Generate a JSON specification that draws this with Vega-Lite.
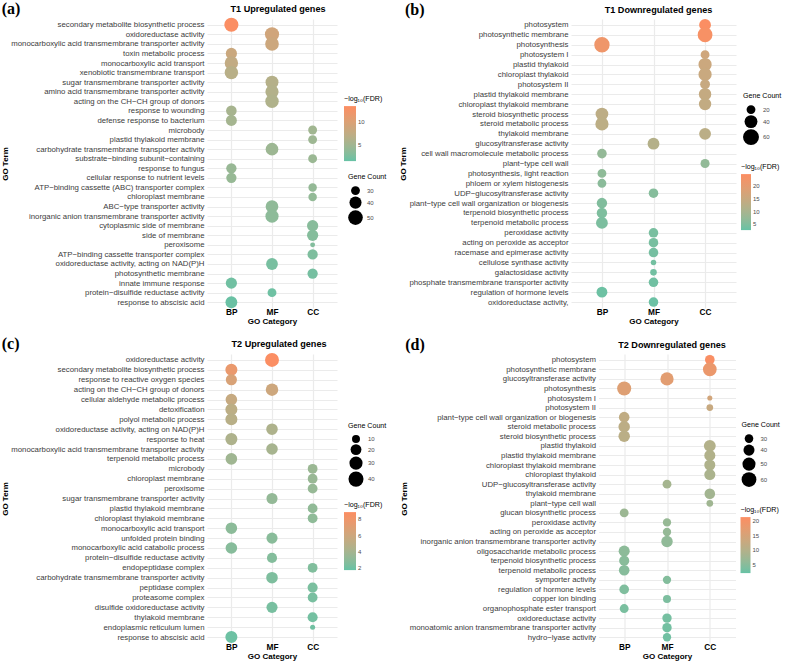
{
  "$schema": "https://vega.github.io/schema/vega-lite/v6.json",
  "padding": {"left": 1, "top": 0, "right": 0, "bottom": 0},
  "config": {
    "font": "Liberation Sans",
    "view": {"stroke": null},
    "axis": {
      "domain": false,
      "ticks": false,
      "grid": true,
      "gridColor": "#EBEBEB",
      "gridWidth": 1.2,
      "labelFont": "Liberation Sans",
      "labelColor": "#3C3C3C",
      "labelFontSize": 7.8,
      "labelPadding": 3,
      "titleFont": "Liberation Sans",
      "titleFontSize": 8,
      "titleFontWeight": "bold",
      "titleColor": "#000000",
      "titlePadding": 2
    },
    "axisX": {"labelFontWeight": "bold", "labelColor": "#000000", "labelFontSize": 8.3, "labelAngle": 0, "labelPadding": -1},
    "axisY": {"titlePadding": 1, "labelLimit": 400},
    "legend": {
      "padding": 0,
      "titleFont": "Liberation Sans",
      "titleFontSize": 7.1,
      "titleFontWeight": "normal",
      "titleColor": "#000000",
      "titlePadding": 4,
      "labelFont": "Liberation Sans",
      "labelFontSize": 6,
      "labelColor": "#4D4D4D",
      "symbolFillColor": "#000000",
      "symbolStrokeWidth": 0,
      "symbolOpacity": 1,
      "rowPadding": 1,
      "gradientStrokeWidth": 0,
      "direction": "vertical"
    },
    "title": {"color": "#000000"}
  },
  "datasets": {
    "t1up": [
      {"term": "secondary metabolite biosynthetic process", "category": "BP", "count": 48, "logFDR": 13.5},
      {"term": "oxidoreductase activity", "category": "MF", "count": 48, "logFDR": 9.0},
      {"term": "monocarboxylic acid transmembrane transporter activity", "category": "MF", "count": 46, "logFDR": 8.6},
      {"term": "toxin metabolic process", "category": "BP", "count": 37, "logFDR": 8.4},
      {"term": "monocarboxylic acid transport", "category": "BP", "count": 45, "logFDR": 7.6},
      {"term": "xenobiotic transmembrane transport", "category": "BP", "count": 45, "logFDR": 6.8},
      {"term": "sugar transmembrane transporter activity", "category": "MF", "count": 43, "logFDR": 6.5},
      {"term": "amino acid transmembrane transporter activity", "category": "MF", "count": 44, "logFDR": 6.3},
      {"term": "acting on the CH−CH group of donors", "category": "MF", "count": 45, "logFDR": 6.1},
      {"term": "response to wounding", "category": "BP", "count": 35, "logFDR": 5.4},
      {"term": "defense response to bacterium", "category": "BP", "count": 36, "logFDR": 5.2},
      {"term": "microbody", "category": "CC", "count": 30, "logFDR": 4.9},
      {"term": "plastid thylakoid membrane", "category": "CC", "count": 30, "logFDR": 4.7},
      {"term": "carbohydrate transmembrane transporter activity", "category": "MF", "count": 42, "logFDR": 4.6},
      {"term": "substrate−binding subunit−containing", "category": "CC", "count": 30, "logFDR": 4.5},
      {"term": "response to fungus", "category": "BP", "count": 34, "logFDR": 4.3},
      {"term": "cellular response to nutrient levels", "category": "BP", "count": 34, "logFDR": 4.2},
      {"term": "ATP−binding cassette (ABC) transporter complex", "category": "CC", "count": 29, "logFDR": 4.0},
      {"term": "chloroplast membrane", "category": "CC", "count": 29, "logFDR": 3.9},
      {"term": "ABC−type transporter activity", "category": "MF", "count": 42, "logFDR": 3.7},
      {"term": "inorganic anion transmembrane transporter activity", "category": "MF", "count": 44, "logFDR": 3.5},
      {"term": "cytoplasmic side of membrane", "category": "CC", "count": 37, "logFDR": 3.2},
      {"term": "side of membrane", "category": "CC", "count": 37, "logFDR": 3.0},
      {"term": "peroxisome", "category": "CC", "count": 22, "logFDR": 2.9},
      {"term": "ATP−binding cassette transporter complex", "category": "CC", "count": 34, "logFDR": 2.6},
      {"term": "oxidoreductase activity, acting on NAD(P)H", "category": "MF", "count": 39, "logFDR": 2.3},
      {"term": "photosynthetic membrane", "category": "CC", "count": 34, "logFDR": 2.2},
      {"term": "innate immune response", "category": "BP", "count": 37, "logFDR": 1.9},
      {"term": "protein−disulfide reductase activity", "category": "MF", "count": 30, "logFDR": 1.8},
      {"term": "response to abscisic acid", "category": "BP", "count": 39, "logFDR": 1.6}
    ],
    "t1down": [
      {"term": "photosystem", "category": "CC", "count": 34, "logFDR": 24.3},
      {"term": "photosynthetic membrane", "category": "CC", "count": 52, "logFDR": 23.5},
      {"term": "photosynthesis", "category": "BP", "count": 56, "logFDR": 22.0},
      {"term": "photosystem I", "category": "CC", "count": 20, "logFDR": 16.2},
      {"term": "plastid thylakoid", "category": "CC", "count": 42, "logFDR": 15.4},
      {"term": "chloroplast thylakoid", "category": "CC", "count": 42, "logFDR": 15.1},
      {"term": "photosystem II", "category": "CC", "count": 24, "logFDR": 14.8},
      {"term": "plastid thylakoid membrane", "category": "CC", "count": 37, "logFDR": 14.3},
      {"term": "chloroplast thylakoid membrane", "category": "CC", "count": 37, "logFDR": 13.9},
      {"term": "steroid biosynthetic process", "category": "BP", "count": 39, "logFDR": 13.2},
      {"term": "steroid metabolic process", "category": "BP", "count": 42, "logFDR": 13.0},
      {"term": "thylakoid membrane", "category": "CC", "count": 34, "logFDR": 12.8},
      {"term": "glucosyltransferase activity", "category": "MF", "count": 34, "logFDR": 11.8},
      {"term": "cell wall macromolecule metabolic process", "category": "BP", "count": 23, "logFDR": 7.4},
      {"term": "plant−type cell wall", "category": "CC", "count": 21, "logFDR": 7.2},
      {"term": "photosynthesis, light reaction", "category": "BP", "count": 20, "logFDR": 6.8},
      {"term": "phloem or xylem histogenesis", "category": "BP", "count": 20, "logFDR": 6.4},
      {"term": "UDP−glucosyltransferase activity", "category": "MF", "count": 23, "logFDR": 5.8},
      {"term": "plant−type cell wall organization or biogenesis", "category": "BP", "count": 27, "logFDR": 5.3},
      {"term": "terpenoid biosynthetic process", "category": "BP", "count": 27, "logFDR": 5.0},
      {"term": "terpenoid metabolic process", "category": "BP", "count": 34, "logFDR": 4.8},
      {"term": "peroxidase activity", "category": "MF", "count": 23, "logFDR": 4.5},
      {"term": "acting on peroxide as acceptor", "category": "MF", "count": 23, "logFDR": 4.4},
      {"term": "racemase and epimerase activity", "category": "MF", "count": 23, "logFDR": 4.2},
      {"term": "cellulose synthase activity", "category": "MF", "count": 9, "logFDR": 4.0},
      {"term": "galactosidase activity", "category": "MF", "count": 12, "logFDR": 3.9},
      {"term": "phosphate transmembrane transporter activity", "category": "MF", "count": 23, "logFDR": 3.7},
      {"term": "regulation of hormone levels", "category": "BP", "count": 29, "logFDR": 3.4},
      {"term": "oxidoreductase activity,", "category": "MF", "count": 23, "logFDR": 3.2}
    ],
    "t2up": [
      {"term": "oxidoreductase activity", "category": "MF", "count": 34, "logFDR": 8.8},
      {"term": "secondary metabolite biosynthetic process", "category": "BP", "count": 25, "logFDR": 7.7},
      {"term": "response to reactive oxygen species", "category": "BP", "count": 21, "logFDR": 6.6},
      {"term": "acting on the CH−CH group of donors", "category": "MF", "count": 27, "logFDR": 6.0},
      {"term": "cellular aldehyde metabolic process", "category": "BP", "count": 23, "logFDR": 5.6},
      {"term": "detoxification", "category": "BP", "count": 25, "logFDR": 5.1},
      {"term": "polyol metabolic process", "category": "BP", "count": 25, "logFDR": 4.9},
      {"term": "oxidoreductase activity, acting on NAD(P)H", "category": "MF", "count": 23, "logFDR": 4.4},
      {"term": "response to heat", "category": "BP", "count": 25, "logFDR": 4.4},
      {"term": "monocarboxylic acid transmembrane transporter activity", "category": "MF", "count": 23, "logFDR": 4.1},
      {"term": "terpenoid metabolic process", "category": "BP", "count": 23, "logFDR": 3.8},
      {"term": "microbody", "category": "CC", "count": 16, "logFDR": 3.6},
      {"term": "chloroplast membrane", "category": "CC", "count": 16, "logFDR": 3.5},
      {"term": "peroxisome", "category": "CC", "count": 16, "logFDR": 3.4},
      {"term": "sugar transmembrane transporter activity", "category": "MF", "count": 21, "logFDR": 3.3},
      {"term": "plastid thylakoid membrane", "category": "CC", "count": 16, "logFDR": 3.2},
      {"term": "chloroplast thylakoid membrane", "category": "CC", "count": 16, "logFDR": 3.1},
      {"term": "monocarboxylic acid transport", "category": "BP", "count": 23, "logFDR": 3.0},
      {"term": "unfolded protein binding", "category": "MF", "count": 21, "logFDR": 2.9},
      {"term": "monocarboxylic acid catabolic process", "category": "BP", "count": 23, "logFDR": 2.8},
      {"term": "protein−disulfide reductase activity", "category": "MF", "count": 17, "logFDR": 2.7},
      {"term": "endopeptidase complex", "category": "CC", "count": 16, "logFDR": 2.6},
      {"term": "carbohydrate transmembrane transporter activity", "category": "MF", "count": 23, "logFDR": 2.5},
      {"term": "peptidase complex", "category": "CC", "count": 17, "logFDR": 2.4},
      {"term": "proteasome complex", "category": "CC", "count": 16, "logFDR": 2.35},
      {"term": "disulfide oxidoreductase activity", "category": "MF", "count": 21, "logFDR": 2.3},
      {"term": "thylakoid membrane", "category": "CC", "count": 17, "logFDR": 2.2},
      {"term": "endoplasmic reticulum lumen", "category": "CC", "count": 3, "logFDR": 2.1},
      {"term": "response to abscisic acid", "category": "BP", "count": 25, "logFDR": 2.0}
    ],
    "t2down": [
      {"term": "photosystem", "category": "CC", "count": 34, "logFDR": 21.0},
      {"term": "photosynthetic membrane", "category": "CC", "count": 54, "logFDR": 18.5},
      {"term": "glucosyltransferase activity", "category": "MF", "count": 51, "logFDR": 17.0},
      {"term": "photosynthesis", "category": "BP", "count": 56, "logFDR": 16.4},
      {"term": "photosystem I", "category": "CC", "count": 20, "logFDR": 14.5},
      {"term": "photosystem II", "category": "CC", "count": 24, "logFDR": 12.8},
      {"term": "plant−type cell wall organization or biogenesis", "category": "BP", "count": 38, "logFDR": 11.8},
      {"term": "steroid metabolic process", "category": "BP", "count": 42, "logFDR": 11.3},
      {"term": "steroid biosynthetic process", "category": "BP", "count": 42, "logFDR": 11.0},
      {"term": "plastid thylakoid", "category": "CC", "count": 44, "logFDR": 10.0},
      {"term": "plastid thylakoid membrane", "category": "CC", "count": 40, "logFDR": 9.8},
      {"term": "chloroplast thylakoid membrane", "category": "CC", "count": 40, "logFDR": 9.5},
      {"term": "chloroplast thylakoid", "category": "CC", "count": 40, "logFDR": 9.0},
      {"term": "UDP−glucosyltransferase activity", "category": "MF", "count": 31, "logFDR": 8.3},
      {"term": "thylakoid membrane", "category": "CC", "count": 38, "logFDR": 8.0},
      {"term": "plant−type cell wall", "category": "CC", "count": 24, "logFDR": 7.6},
      {"term": "glucan biosynthetic process", "category": "BP", "count": 31, "logFDR": 7.2},
      {"term": "peroxidase activity", "category": "MF", "count": 29, "logFDR": 6.6},
      {"term": "acting on peroxide as acceptor", "category": "MF", "count": 29, "logFDR": 6.4},
      {"term": "inorganic anion transmembrane transporter activity", "category": "MF", "count": 42, "logFDR": 6.0},
      {"term": "oligosaccharide metabolic process", "category": "BP", "count": 40, "logFDR": 5.6},
      {"term": "terpenoid biosynthetic process", "category": "BP", "count": 36, "logFDR": 5.2},
      {"term": "terpenoid metabolic process", "category": "BP", "count": 38, "logFDR": 5.0},
      {"term": "symporter activity", "category": "MF", "count": 29, "logFDR": 4.6},
      {"term": "regulation of hormone levels", "category": "BP", "count": 34, "logFDR": 4.3},
      {"term": "copper ion binding", "category": "MF", "count": 28, "logFDR": 4.0},
      {"term": "organophosphate ester transport", "category": "BP", "count": 31, "logFDR": 3.8},
      {"term": "oxidoreductase activity", "category": "MF", "count": 33, "logFDR": 3.4},
      {"term": "monoatomic anion transmembrane transporter activity", "category": "MF", "count": 33, "logFDR": 3.2},
      {"term": "hydro−lyase activity", "category": "MF", "count": 29, "logFDR": 3.0}
    ]
  },
  "resolve": {"scale": {"color": "independent", "size": "independent"}, "legend": {"color": "independent", "size": "independent"}},
  "spacing": 9,
  "vconcat": [
    {
      "resolve": {"scale": {"color": "independent", "size": "independent"}, "legend": {"color": "independent", "size": "independent"}},
      "spacing": 12,
      "hconcat": [
        {
          "title": {"text": "(a)", "anchor": "start", "frame": "bounds", "font": "Liberation Serif", "fontSize": 16, "fontWeight": "bold", "offset": -12},
          "resolve": {"scale": {"color": "independent", "size": "independent"}},
          "vconcat": [
            {
              "data": {"name": "t1up"},
              "title": {"text": "T1 Upregulated genes", "anchor": "middle", "frame": "group", "fontSize": 9.1, "fontWeight": "bold", "offset": 4, "dx": 6},
              "width": 130,
              "height": 289,
              "mark": {"type": "circle", "opacity": 1, "color": "#000000"},
              "encoding": {
                "x": {"field": "category", "type": "nominal", "sort": ["BP", "MF", "CC"], "scale": {"type": "point", "padding": 0.6}, "axis": {"title": "GO Category"}},
                "y": {"field": "term", "type": "nominal", "sort": null, "scale": {"type": "point", "padding": 0.6}, "axis": {"title": "GO Term"}},
                "size": {"field": "count", "type": "quantitative", "scale": {"domain": [20, 55], "range": [10.7, 248], "zero": false},
                  "legend": {"title": "Gene Count", "values": [30, 40, 50], "orient": "none", "legendX": 141, "legendY": 154, "titlePadding": 6}},
                "color": {"field": "logFDR", "type": "quantitative", "scale": {"domain": [1.4, 13.6], "range": ["#66C2A5", "#FC8D62"], "interpolate": "lab"},
                  "legend": {"title": "−log₁₀(FDR)", "values": [5, 10], "orient": "none", "legendX": 137, "legendY": 76, "gradientLength": 55, "gradientThickness": 12}}
              }
            }
          ]
        },
        {
          "title": {"text": "(b)", "anchor": "start", "frame": "bounds", "font": "Liberation Serif", "fontSize": 16, "fontWeight": "bold", "offset": -12, "dx": 5},
          "resolve": {"scale": {"color": "independent", "size": "independent"}},
          "vconcat": [
            {
              "data": {"name": "t1down"},
              "title": {"text": "T1 Downregulated genes", "anchor": "middle", "frame": "group", "fontSize": 9.1, "fontWeight": "bold", "offset": 4, "dx": 5},
              "width": 165,
              "height": 289,
              "mark": {"type": "circle", "opacity": 1, "color": "#000000"},
              "encoding": {
                "x": {"field": "category", "type": "nominal", "sort": ["BP", "MF", "CC"], "scale": {"type": "point", "padding": 0.6}, "axis": {"title": "GO Category"}},
                "y": {"field": "term", "type": "nominal", "sort": null, "scale": {"type": "point", "padding": 0.6}, "axis": {"title": "GO Term"}},
                "size": {"field": "count", "type": "quantitative", "scale": {"domain": [5, 70], "range": [12.6, 298], "zero": false},
                  "legend": {"title": "Gene Count", "values": [20, 40, 60], "orient": "none", "legendX": 172, "legendY": 73, "titlePadding": 6}},
                "color": {"field": "logFDR", "type": "quantitative", "scale": {"domain": [2.8, 24.6], "range": ["#66C2A5", "#FC8D62"], "interpolate": "lab"},
                  "legend": {"title": "−log₁₀(FDR)", "values": [5, 10, 15, 20], "orient": "none", "legendX": 170, "legendY": 144, "gradientLength": 56, "gradientThickness": 10}}
              }
            }
          ]
        }
      ]
    },
    {
      "resolve": {"scale": {"color": "independent", "size": "independent"}, "legend": {"color": "independent", "size": "independent"}},
      "spacing": 12.5,
      "hconcat": [
        {
          "title": {"text": "(c)", "anchor": "start", "frame": "bounds", "font": "Liberation Serif", "fontSize": 16, "fontWeight": "bold", "offset": -12},
          "resolve": {"scale": {"color": "independent", "size": "independent"}},
          "vconcat": [
            {
              "data": {"name": "t2up"},
              "title": {"text": "T2 Upregulated genes", "anchor": "middle", "frame": "group", "fontSize": 9.1, "fontWeight": "bold", "offset": 4, "dx": 7},
              "width": 130,
              "height": 289,
              "mark": {"type": "circle", "opacity": 1, "color": "#000000"},
              "encoding": {
                "x": {"field": "category", "type": "nominal", "sort": ["BP", "MF", "CC"], "scale": {"type": "point", "padding": 0.6}, "axis": {"title": "GO Category"}},
                "y": {"field": "term", "type": "nominal", "sort": null, "scale": {"type": "point", "padding": 0.6}, "axis": {"title": "GO Term"}},
                "size": {"field": "count", "type": "quantitative", "scale": {"domain": [0, 45], "range": [9.1, 254], "zero": false},
                  "legend": {"title": "Gene Count", "values": [10, 20, 30, 40], "orient": "none", "legendX": 141, "legendY": 68, "titlePadding": 6}},
                "color": {"field": "logFDR", "type": "quantitative", "scale": {"domain": [1.8, 8.86], "range": ["#66C2A5", "#FC8D62"], "interpolate": "lab"},
                  "legend": {"title": "−log₁₀(FDR)", "values": [2, 4, 6, 8], "orient": "none", "legendX": 137, "legendY": 147, "gradientLength": 58, "gradientThickness": 12}}
              }
            }
          ]
        },
        {
          "title": {"text": "(d)", "anchor": "start", "frame": "bounds", "font": "Liberation Serif", "fontSize": 16, "fontWeight": "bold", "offset": -12, "dx": 5},
          "resolve": {"scale": {"color": "independent", "size": "independent"}},
          "vconcat": [
            {
              "data": {"name": "t2down"},
              "title": {"text": "T2 Downregulated genes", "anchor": "middle", "frame": "group", "fontSize": 9.1, "fontWeight": "bold", "offset": 4, "dx": 5},
              "width": 137,
              "height": 289,
              "mark": {"type": "circle", "opacity": 1, "color": "#000000"},
              "encoding": {
                "x": {"field": "category", "type": "nominal", "sort": ["BP", "MF", "CC"], "scale": {"type": "point", "padding": 0.6}, "axis": {"title": "GO Category"}},
                "y": {"field": "term", "type": "nominal", "sort": null, "scale": {"type": "point", "padding": 0.6}, "axis": {"title": "GO Term"}},
                "size": {"field": "count", "type": "quantitative", "scale": {"domain": [20, 70], "range": [25.7, 267], "zero": false},
                  "legend": {"title": "Gene Count", "values": [30, 40, 50, 60], "orient": "none", "legendX": 143, "legendY": 67, "titlePadding": 6}},
                "color": {"field": "logFDR", "type": "quantitative", "scale": {"domain": [2.2, 21.5], "range": ["#66C2A5", "#FC8D62"], "interpolate": "lab"},
                  "legend": {"title": "−log₁₀(FDR)", "values": [5, 10, 15, 20], "orient": "none", "legendX": 142, "legendY": 152, "gradientLength": 56, "gradientThickness": 10}}
              }
            }
          ]
        }
      ]
    }
  ]
}
